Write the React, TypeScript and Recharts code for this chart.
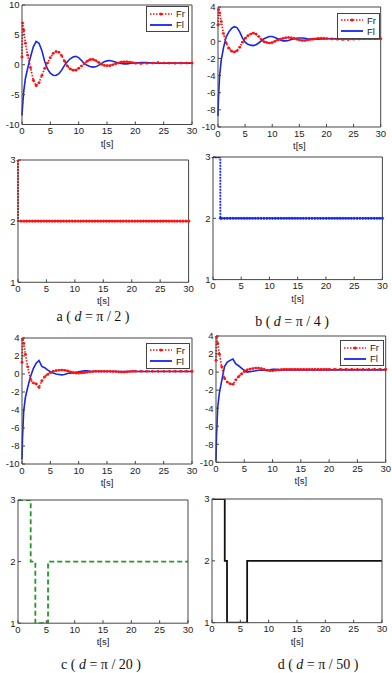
import React from "react";
import { LineChart, Line, XAxis, YAxis, Legend } from "recharts";

// time grid for the force plots
const T = [0, 0.1, 0.3, 0.6, 1, 1.5, 2, 2.5, 3, 3.5, 4, 4.5, 5, 5.5, 6, 6.5, 7, 7.5, 8, 8.5, 9, 9.5, 10, 10.5, 11, 11.5, 12, 12.5, 13, 13.5, 14, 14.5, 15, 15.5, 16, 16.5, 17, 17.5, 18, 18.5, 19, 19.5, 20, 21, 22, 23, 24, 25, 26, 27, 28, 29, 30];

const frA = [1.3, 7.0, 5.8, 3.6, 1.6, -0.5, -2.6, -3.5, -3.0, -1.8, -0.6, 0.3, 1.2, 1.9, 2.2, 2.1, 1.5, 0.6, -0.2, -0.7, -0.9, -0.9, -0.6, -0.2, 0.2, 0.6, 0.85, 0.9, 0.7, 0.4, 0.1, -0.1, -0.15, -0.15, 0, 0.15, 0.3, 0.45, 0.5, 0.5, 0.45, 0.35, 0.25, 0.2, 0.25, 0.3, 0.35, 0.3, 0.28, 0.25, 0.28, 0.3, 0.3];
const flA = [-8.5, -7, -4.5, -2.3, -0.6, 1.3, 3.0, 3.9, 3.6, 2.4, 0.6, -0.7, -1.4, -1.75, -1.8, -1.5, -0.9, -0.1, 0.5, 1.0, 1.3, 1.4, 1.2, 0.7, 0.2, -0.1, -0.3, -0.4, -0.35, -0.1, 0.2, 0.5, 0.65, 0.7, 0.6, 0.45, 0.3, 0.2, 0.15, 0.15, 0.2, 0.25, 0.3, 0.35, 0.35, 0.3, 0.25, 0.25, 0.28, 0.3, 0.3, 0.28, 0.27];

const frB = [1.9, 3.7, 3.3, 2.3, 0.9, -0.2, -0.8, -1.15, -1.25, -1.1, -0.7, -0.1, 0.35, 0.65, 0.85, 0.95, 0.85, 0.55, 0.2, -0.05, -0.15, -0.2, -0.15, 0, 0.15, 0.25, 0.35, 0.42, 0.45, 0.42, 0.35, 0.25, 0.15, 0.1, 0.1, 0.15, 0.2, 0.25, 0.3, 0.35, 0.35, 0.35, 0.33, 0.28, 0.25, 0.22, 0.22, 0.25, 0.28, 0.3, 0.3, 0.3, 0.3];
const flB = [-8.7, -6.5, -4.0, -2.2, -0.8, 0.5, 1.1, 1.5, 1.7, 1.6, 1.1, 0.4, -0.1, -0.35, -0.45, -0.5, -0.4, -0.2, 0.05, 0.3, 0.45, 0.55, 0.55, 0.45, 0.3, 0.15, 0.05, 0.05, 0.1, 0.2, 0.3, 0.35, 0.38, 0.38, 0.35, 0.3, 0.27, 0.25, 0.25, 0.25, 0.27, 0.28, 0.3, 0.3, 0.28, 0.27, 0.27, 0.28, 0.28, 0.28, 0.28, 0.28, 0.28];

const frC = [1.3, 3.9, 3.4, 2.2, 0.8, -0.6, -1.0, -1.1, -1.5, -0.75, -0.3, -0.05, 0.15, 0.3, 0.38, 0.42, 0.45, 0.42, 0.35, 0.25, 0.15, 0.1, 0.1, 0.12, 0.15, 0.2, 0.25, 0.28, 0.3, 0.3, 0.3, 0.3, 0.3, 0.3, 0.28, 0.27, 0.25, 0.22, 0.22, 0.25, 0.28, 0.3, 0.3, 0.3, 0.3, 0.3, 0.3, 0.3, 0.3, 0.3, 0.3, 0.3, 0.3];
const flC = [-9.5, -7.0, -4.1, -2.6, -1.5, -0.3, 0.6, 1.2, 1.5, 0.85, 0.7, 0.45, 0.25, 0.1, 0, -0.05, -0.1, -0.05, 0.05, 0.1, 0.15, 0.2, 0.25, 0.3, 0.35, 0.35, 0.3, 0.28, 0.28, 0.28, 0.28, 0.28, 0.28, 0.28, 0.28, 0.28, 0.28, 0.28, 0.28, 0.28, 0.28, 0.28, 0.28, 0.28, 0.28, 0.28, 0.28, 0.28, 0.28, 0.28, 0.28, 0.28, 0.28];

const frD = [1.3, 3.9, 3.2, 2.0, 0.6, -0.7, -1.1, -1.3, -1.35, -0.85, -0.5, -0.2, 0.05, 0.25, 0.35, 0.4, 0.45, 0.45, 0.4, 0.3, 0.2, 0.15, 0.15, 0.2, 0.25, 0.28, 0.3, 0.3, 0.3, 0.3, 0.3, 0.3, 0.3, 0.3, 0.3, 0.3, 0.3, 0.3, 0.3, 0.3, 0.3, 0.3, 0.3, 0.3, 0.3, 0.3, 0.3, 0.3, 0.3, 0.3, 0.3, 0.3, 0.3];
const flD = [-9.8, -7.0, -3.9, -2.3, -1.0, 0.6, 1.1, 1.3, 1.45, 0.9, 0.7, 0.45, 0.2, 0, 0.05, 0.1, 0.15, 0.2, 0.2, 0.2, 0.22, 0.25, 0.3, 0.3, 0.27, 0.25, 0.25, 0.25, 0.25, 0.25, 0.25, 0.25, 0.25, 0.25, 0.25, 0.25, 0.25, 0.25, 0.25, 0.25, 0.25, 0.25, 0.25, 0.25, 0.25, 0.25, 0.25, 0.25, 0.25, 0.25, 0.25, 0.25, 0.25];

// switching index plots
const tStepA = [0, 0.5, 1, 1.5, 2, 2.5, 3, 3.5, 4, 4.5, 5, 5.5, 6, 6.5, 7, 7.5, 8, 8.5, 9, 9.5, 10, 10.5, 11, 11.5, 12, 12.5, 13, 13.5, 14, 14.5, 15, 15.5, 16, 16.5, 17, 17.5, 18, 18.5, 19, 19.5, 20, 20.5, 21, 21.5, 22, 22.5, 23, 23.5, 24, 24.5, 25, 25.5, 26, 26.5, 27, 27.5, 28, 28.5, 29, 29.5, 30];
const vStepA = [3, 2, 2, 2, 2, 2, 2, 2, 2, 2, 2, 2, 2, 2, 2, 2, 2, 2, 2, 2, 2, 2, 2, 2, 2, 2, 2, 2, 2, 2, 2, 2, 2, 2, 2, 2, 2, 2, 2, 2, 2, 2, 2, 2, 2, 2, 2, 2, 2, 2, 2, 2, 2, 2, 2, 2, 2, 2, 2, 2, 2];
const tStepB = [0, 0.5, 1, 1.3, 1.5, 2, 2.5, 3, 3.5, 4, 4.5, 5, 5.5, 6, 6.5, 7, 7.5, 8, 8.5, 9, 9.5, 10, 10.5, 11, 11.5, 12, 12.5, 13, 13.5, 14, 14.5, 15, 15.5, 16, 16.5, 17, 17.5, 18, 18.5, 19, 19.5, 20, 20.5, 21, 21.5, 22, 22.5, 23, 23.5, 24, 24.5, 25, 25.5, 26, 26.5, 27, 27.5, 28, 28.5, 29, 29.5, 30];
const vStepB = [3, 3, 3, 2, 2, 2, 2, 2, 2, 2, 2, 2, 2, 2, 2, 2, 2, 2, 2, 2, 2, 2, 2, 2, 2, 2, 2, 2, 2, 2, 2, 2, 2, 2, 2, 2, 2, 2, 2, 2, 2, 2, 2, 2, 2, 2, 2, 2, 2, 2, 2, 2, 2, 2, 2, 2, 2, 2, 2, 2, 2, 2];
const tStepC = [0, 2.24, 3.06, 5.3, 30];
const vStepC = [3, 2, 1, 2, 2];
const tStepD = [0, 2.25, 2.65, 6.2, 30];
const vStepD = [3, 2, 1, 2, 2];

const xTicks = [0, 5, 10, 15, 20, 25, 30];
const yTicksA = [-10, -5, 0, 5, 10];
const yTicksB = [-10, -8, -6, -4, -2, 0, 2, 4];
const yTicksStep = [1, 2, 3];

const RED = "#ff1010";
const BLUE = "#1428e6";
const GREEN = "#229a22";
const AXIS = "#444";
const FONT = "'Liberation Sans', Arial, sans-serif";

const ML = 22;
const MT = 10;
const MR = 10;
const XH = 27;

const forceRows = (fr: number[], fl: number[]) => T.map((t, i) => ({ t, fr: fr[i], fl: fl[i] }));
const stepRows = (ts: number[], vs: number[]) => ts.map((t, i) => ({ t, v: vs[i] }));

function ForceLegend() {
  const row = (name: string, color: string, dotted: boolean) => (
    <div style={{ display: "flex", alignItems: "center", height: 11 }}>
      <svg width={24} height={6} style={{ marginRight: 3 }}>
        <line x1={1} y1={3} x2={23} y2={3} stroke={color} strokeWidth={dotted ? 1.6 : 1.8}
          strokeDasharray={dotted ? "1.5 1.5" : undefined} />
        {dotted && <circle cx={12} cy={3} r={1.6} fill={color} />}
      </svg>
      <span style={{ fontSize: 9.5, color: "#222", fontFamily: FONT }}>{name}</span>
    </div>
  );
  return (
    <div style={{ border: `1px solid ${AXIS}`, background: "#fff", padding: "1px 2px", boxSizing: "border-box" }}>
      {row("Fr", RED, true)}
      {row("Fl", BLUE, false)}
    </div>
  );
}

type PanelProps = {
  x: number;
  y: number;
  w: number;
  h: number;
  yDomain: [number, number];
  yTicks: number[];
  data: any[];
  children: React.ReactNode;
  legendAt?: [number, number, number];
};

function Panel({ x, y, w, h, yDomain, yTicks, data, children, legendAt }: PanelProps) {
  const tickStyle = { fontSize: 9.5, fill: "#222", fontFamily: FONT };
  return (
    <div style={{ position: "absolute", left: x - ML, top: y - MT }}>
      <LineChart width={w + ML + MR} height={h + MT + XH} data={data}
        margin={{ top: MT - 1, right: MR - 1, bottom: 0, left: 0 }}>
        <XAxis dataKey="t" type="number" domain={[0, 30]} ticks={xTicks} interval={0}
          tickSize={-3} tickMargin={6} height={XH} stroke={AXIS} tick={tickStyle}
          label={{ value: "t[s]", position: "insideBottom", offset: 5, fontSize: 9.5, fill: "#222", fontFamily: FONT }} />
        <XAxis xAxisId="top" orientation="top" type="number" domain={[0, 30]} ticks={xTicks}
          interval={0} height={1} tick={false} tickSize={-3} stroke={AXIS} allowDataOverflow />
        <YAxis type="number" domain={yDomain} ticks={yTicks} interval={0} width={ML}
          tickSize={-3} tickMargin={5.5} stroke={AXIS} tick={tickStyle} allowDataOverflow />
        <YAxis yAxisId="r" orientation="right" type="number" domain={yDomain} ticks={yTicks}
          interval={0} width={1} tick={false} tickSize={-3} stroke={AXIS} allowDataOverflow />
        {legendAt && (
          <Legend layout="vertical" align="center" verticalAlign="middle"
            wrapperStyle={{ left: legendAt[0] - (x - ML), top: legendAt[1] - (y - MT), width: legendAt[2] }}
            content={() => <ForceLegend />} />
        )}
        {children}
      </LineChart>
    </div>
  );
}

const forceLines = () => [
  <Line key="fl" dataKey="fl" type="linear" stroke={BLUE} strokeWidth={1.6} dot={false}
    isAnimationActive={false} />,
  <Line key="fr" dataKey="fr" type="linear" stroke={RED} strokeWidth={1.7} strokeDasharray="1.5 1.5"
    dot={{ r: 1.3, fill: RED, stroke: RED, strokeWidth: 0.4 }} isAnimationActive={false} />,
];

function Caption({ cx, cy, label, den }: { cx: number; cy: number; label: string; den: string }) {
  return (
    <div style={{
      position: "absolute", left: cx - 60, top: cy - 9, width: 120, textAlign: "center",
      fontFamily: "'Liberation Serif', 'Times New Roman', serif", fontSize: 14, color: "#111",
      whiteSpace: "pre", lineHeight: "18px",
    }}>
      {label} ( <i>d</i> = π / {den} )
    </div>
  );
}

export default function App() {
  return (
    <div style={{ position: "absolute", left: 0, top: 0, width: 392, height: 673, background: "#fff", overflow: "hidden" }}>
      <Panel x={21.7} y={4.5} w={170} h={119.5} yDomain={[-10, 10]} yTicks={yTicksA}
        data={forceRows(frA, flA)} legendAt={[146, 6, 43]}>
        {forceLines()}
      </Panel>
      <Panel x={218.3} y={7.3} w={162.7} h={120} yDomain={[-10, 4]} yTicks={yTicksB}
        data={forceRows(frB, flB)} legendAt={[337, 12.5, 43]}>
        {forceLines()}
      </Panel>
      <Panel x={17.7} y={160} w={170.6} h={122.3} yDomain={[1, 3]} yTicks={yTicksStep}
        data={stepRows(tStepA, vStepA)}>
        <Line dataKey="v" type="stepBefore" stroke={RED} strokeWidth={1.8} strokeDasharray="2 1"
          dot={{ r: 1.4, fill: RED, stroke: RED, strokeWidth: 0.4 }} isAnimationActive={false} />
      </Panel>
      <Panel x={213.3} y={156.7} w={169.4} h={122.6} yDomain={[1, 3]} yTicks={yTicksStep}
        data={stepRows(tStepB, vStepB)}>
        <Line dataKey="v" type="stepAfter" stroke={BLUE} strokeWidth={1.8} strokeDasharray="2 1"
          dot={{ r: 1.3, fill: BLUE, stroke: BLUE, strokeWidth: 0.4 }} isAnimationActive={false} />
      </Panel>
      <Panel x={21.7} y={338.3} w={170} h={126} yDomain={[-10, 4]} yTicks={yTicksB}
        data={forceRows(frC, flC)} legendAt={[146, 342.7, 44]}>
        {forceLines()}
      </Panel>
      <Panel x={216} y={336} w={169.7} h={126.3} yDomain={[-10, 4]} yTicks={yTicksB}
        data={forceRows(frD, flD)} legendAt={[340, 340, 44]}>
        {forceLines()}
      </Panel>
      <Panel x={18.3} y={499.5} w={170} h={123.2} yDomain={[1, 3]} yTicks={yTicksStep}
        data={stepRows(tStepC, vStepC)}>
        <Line dataKey="v" type="stepAfter" stroke={GREEN} strokeWidth={1.8} strokeDasharray="5 3"
          dot={false} isAnimationActive={false} />
      </Panel>
      <Panel x={212.3} y={499} w={170} h={123.7} yDomain={[1, 3]} yTicks={yTicksStep}
        data={stepRows(tStepD, vStepD)}>
        <Line dataKey="v" type="stepAfter" stroke="#111" strokeWidth={1.8}
          dot={false} isAnimationActive={false} />
      </Panel>
      <Caption cx={93} cy={317} label="a" den="2" />
      <Caption cx={292} cy={322} label="b" den="4" />
      <Caption cx={101} cy={665} label="c" den="20" />
      <Caption cx={318} cy={665} label="d" den="50" />
    </div>
  );
}
